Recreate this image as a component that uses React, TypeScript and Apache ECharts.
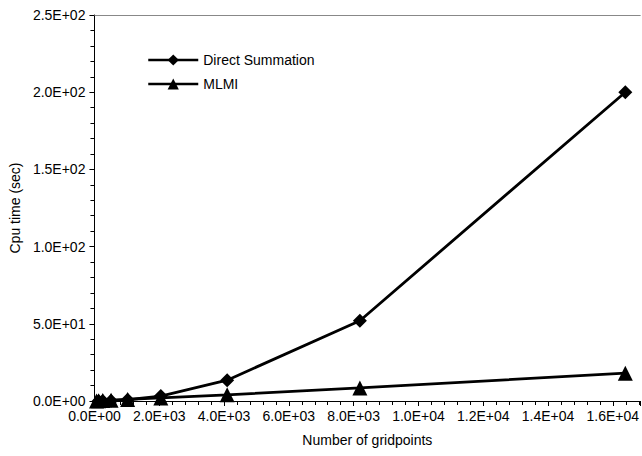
import React, { useEffect, useRef } from "react";
import * as echarts from "echarts";

const gridpoints = [64, 128, 256, 512, 1024, 2048, 4096, 8192, 16384];
const directSummation = [0.01, 0.05, 0.2, 0.8, 3.2, 13.5, 52, 200];
const directX = [128, 256, 512, 1024, 2048, 4096, 8192, 16384];
const mlmi = [0.06, 0.12, 0.25, 0.5, 1, 2, 4, 8.5, 18];
const seriesNames = ["Direct Summation", "MLMI"];

function sci(v: number): string {
  if (v === 0) return "0.0E+00";
  const s = v.toExponential(1);
  const [m, e] = s.split("e");
  const n = parseInt(e, 10);
  const abs = Math.abs(n);
  return m + "E" + (n >= 0 ? "+" : "-") + (abs < 10 ? "0" + abs : String(abs));
}

const FONT = "Liberation Sans";

export default function App() {
  const ref = useRef<HTMLDivElement>(null);
  useEffect(() => {
    if (!ref.current) return;
    const chart = echarts.init(ref.current, undefined, { renderer: "svg" });
    chart.setOption({
      animation: false,
      backgroundColor: "#fff",
      textStyle: { fontFamily: FONT, color: "#000" },
      grid: { left: 92, right: 0, top: 15, bottom: 55 },
      legend: {
        orient: "vertical",
        left: 142,
        top: 48,
        itemWidth: 50,
        itemHeight: 14,
        itemGap: 10,
        lineStyle: { width: 2.5, color: "#000" },
        textStyle: { fontFamily: FONT, fontSize: 14, color: "#000" },
        data: seriesNames,
      },
      xAxis: [
        {
          type: "value",
          min: 0,
          max: 16845,
          interval: 2000,
          name: "Number of gridpoints",
          nameLocation: "middle",
          nameGap: 32,
          nameTextStyle: { fontFamily: FONT, fontSize: 14, color: "#000" },
          axisLine: { show: true, onZero: false, lineStyle: { color: "#000", width: 1 } },
          axisTick: { show: true, length: 5, lineStyle: { color: "#000" } },
          minorTick: { show: true, splitNumber: 5, length: 4, lineStyle: { color: "#000" } },
          splitLine: { show: false },
          axisLabel: {
            fontFamily: FONT,
            fontSize: 14,
            color: "#000",
            margin: 8,
            showMaxLabel: false,
            formatter: (v: number) => (v % 2000 === 0 ? sci(v) : ""),
          },
        },
        {
          type: "value",
          position: "top",
          min: 0,
          max: 16845,
          axisLine: { show: true, onZero: false, lineStyle: { color: "#888", width: 1 } },
          axisTick: { show: false },
          axisLabel: { show: false },
          splitLine: { show: false },
        },
      ],
      yAxis: {
        type: "value",
        min: 0,
        max: 250,
        interval: 50,
        name: "Cpu time (sec)",
        nameLocation: "middle",
        nameRotate: 90,
        nameGap: 69,
        nameTextStyle: { fontFamily: FONT, fontSize: 14, color: "#000" },
        axisLine: { show: true, lineStyle: { color: "#000", width: 1 } },
        axisTick: { show: true, length: 5, lineStyle: { color: "#000" } },
        minorTick: { show: true, splitNumber: 5, length: 4, lineStyle: { color: "#000" } },
        splitLine: { show: false },
        axisLabel: {
          fontFamily: FONT,
          fontSize: 14,
          color: "#000",
          margin: 9,
          formatter: (v: number) => sci(v),
        },
      },
      series: [
        {
          name: seriesNames[0],
          type: "line",
          data: directX.map((x, i) => [x, directSummation[i]]),
          symbol: "diamond",
          symbolSize: 14,
          lineStyle: { color: "#000", width: 2.8 },
          itemStyle: { color: "#000" },
          z: 3,
        },
        {
          name: seriesNames[1],
          type: "line",
          data: gridpoints.map((x, i) => [x, mlmi[i]]),
          symbol: "triangle",
          symbolSize: 15,
          lineStyle: { color: "#000", width: 2.8 },
          itemStyle: { color: "#000" },
          z: 2,
        },
      ],
    });
    return () => chart.dispose();
  }, []);
  return (
    <div
      ref={ref}
      style={{ position: "fixed", left: 0, top: 0, width: 642, height: 456 }}
    />
  );
}
